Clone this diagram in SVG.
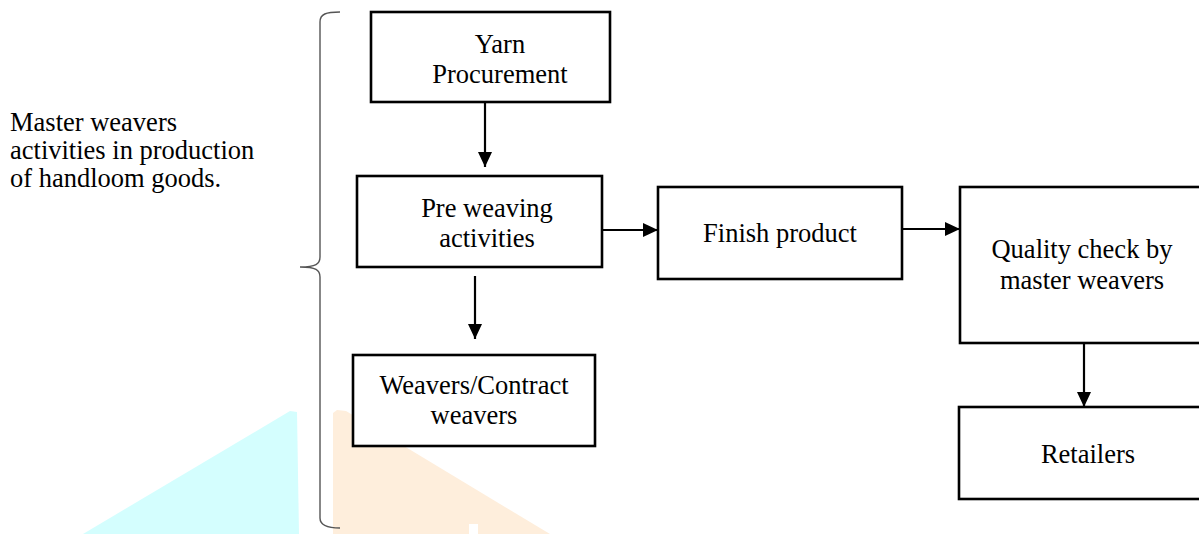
<svg xmlns="http://www.w3.org/2000/svg" width="1199" height="534" viewBox="0 0 1199 534">
<style>
  text { font-family: "Liberation Serif", "Times New Roman", serif; font-size: 26.5px; fill: #000; }
  .c { text-anchor: middle; }
  .box { fill: #fff; stroke: #000; stroke-width: 2.6; }
  .arrow { stroke: #000; stroke-width: 2.2; fill: none; marker-end: url(#ah); }
  .brace { stroke: #555; stroke-width: 1.4; fill: none; }
</style>
<defs>
  <marker id="ah" markerUnits="userSpaceOnUse" markerWidth="15" markerHeight="15" refX="15" refY="7" orient="auto">
    <path d="M0,0 L15,7 L0,14 z" fill="#000"/>
  </marker>
</defs>
<rect width="1199" height="534" fill="#fff"/>
<g id="watermark">
  <polygon points="83,534 290,411 297,412 299,534" fill="#D4FEFE"/>
  <polygon points="333,534 333,413 337,410 346,411 550,534" fill="#FEEEDC"/>
  <rect x="469" y="524" width="9" height="10" fill="#fff"/>
</g>
<g id="label">
  <text x="10" y="131">Master weavers</text>
  <text x="10" y="159">activities in production</text>
  <text x="10" y="187">of handloom goods.</text>
</g>
<g id="brace">
  <path class="brace" d="M340,12 C326,12 320,14 320,22 L320,257 C320,264 316,267 300,267 C316,267 320,270 320,277 L320,518 C320,525 326,528 340,528"/>
</g>
<g id="connectors">
  <line class="arrow" x1="485" y1="102" x2="485" y2="167"/>
  <line class="arrow" x1="602" y1="230" x2="658" y2="230"/>
  <line class="arrow" x1="475" y1="276" x2="475" y2="339"/>
  <line class="arrow" x1="902" y1="229" x2="960" y2="229"/>
  <line class="arrow" x1="1084" y1="343" x2="1084" y2="407"/>
</g>
<g id="yarn">
  <rect class="box" x="371" y="12" width="239" height="90"/>
  <text class="c" x="500" y="53">Yarn</text>
  <text class="c" x="500" y="83">Procurement</text>
</g>
<g id="preweaving">
  <rect class="box" x="357" y="176" width="245" height="91"/>
  <text class="c" x="487" y="217">Pre weaving</text>
  <text class="c" x="487" y="247">activities</text>
</g>
<g id="weavers">
  <rect class="box" x="353" y="355" width="242" height="91"/>
  <text class="c" x="474" y="394">Weavers/Contract</text>
  <text class="c" x="474" y="424">weavers</text>
</g>
<g id="finish">
  <rect class="box" x="658" y="187" width="244" height="92"/>
  <text class="c" x="780" y="242">Finish product</text>
</g>
<g id="quality">
  <rect class="box" x="960" y="187" width="260" height="156"/>
  <text class="c" x="1082" y="258">Quality check by</text>
  <text class="c" x="1082" y="289">master weavers</text>
</g>
<g id="retailers">
  <rect class="box" x="959" y="407" width="260" height="92"/>
  <text class="c" x="1088" y="463">Retailers</text>
</g>
</svg>
